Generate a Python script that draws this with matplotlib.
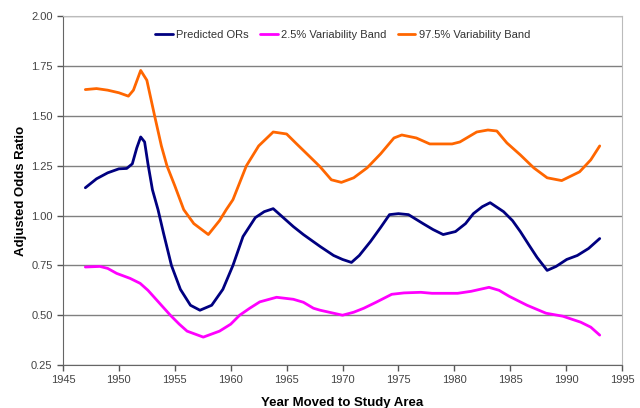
import matplotlib
matplotlib.use("Agg")
import matplotlib.pyplot as plt

plt.rcParams['font.family'] = ['Liberation Sans', 'DejaVu Sans']

pred_x = [1947, 1948, 1949, 1950, 1950.7, 1951.2, 1951.6, 1951.95, 1952.3, 1952.6, 1953.0, 1953.5,
          1954.0, 1954.7, 1955.5, 1956.4, 1957.25, 1958.3, 1959.3, 1960.2, 1961.1, 1962.2, 1963,
          1963.8, 1964.7, 1965.6, 1966.5, 1968.0, 1969.2, 1970.0, 1970.8, 1971.5, 1972.5, 1973.4,
          1974.2, 1975.0, 1975.9, 1977.2, 1978.1, 1979.0, 1980.1, 1981.0, 1981.7, 1982.5, 1983.2,
          1984.4, 1985.2, 1985.9, 1986.7, 1987.4, 1988.3, 1989.1, 1990.05, 1991.0, 1992.0, 1993]
pred_y = [1.14, 1.185, 1.215, 1.235, 1.237, 1.26, 1.34, 1.395, 1.37, 1.26, 1.13, 1.03,
          0.91, 0.75, 0.63, 0.55, 0.525, 0.55, 0.63, 0.75, 0.895, 0.99, 1.02,
          1.035, 0.99, 0.945, 0.905, 0.845, 0.80, 0.78, 0.765, 0.80, 0.87, 0.94,
          1.005, 1.01, 1.005, 0.96, 0.93, 0.905, 0.92, 0.96, 1.01, 1.045, 1.065,
          1.02, 0.975, 0.92, 0.85, 0.79, 0.725, 0.745, 0.78, 0.80, 0.835, 0.885]

low_x = [1947, 1948.3, 1949.0, 1949.8, 1951.0, 1951.9, 1952.6, 1953.4, 1954.6, 1955.4, 1956.1,
         1957.55, 1959.0, 1960.0, 1960.8, 1961.7, 1962.6, 1964.1, 1965.6, 1966.5, 1967.4, 1968.0,
         1969.2, 1970.0, 1971.0, 1971.9, 1973.0, 1974.4, 1975.5, 1977.0, 1978.0, 1980.3, 1981.5,
         1983.1, 1984.0, 1984.9, 1986.5, 1988.2, 1989.7, 1991.3, 1992.2, 1993]
low_y = [0.742, 0.745, 0.735, 0.71, 0.685, 0.66, 0.625, 0.575, 0.50, 0.455, 0.42,
         0.39, 0.42, 0.455, 0.50, 0.535, 0.567, 0.59, 0.58, 0.565, 0.535, 0.525,
         0.51, 0.50, 0.515, 0.535, 0.565, 0.605, 0.612, 0.615, 0.61, 0.61, 0.62,
         0.64, 0.625, 0.595, 0.55, 0.51, 0.495, 0.465, 0.44, 0.40]

high_x = [1947, 1948, 1949, 1950, 1950.85, 1951.3, 1951.95, 1952.5, 1953.2, 1953.8, 1954.3, 1955.0,
          1955.8, 1956.7, 1958.0, 1959.0, 1959.6, 1960.2, 1961.4, 1962.5, 1963.8, 1965.0, 1965.9,
          1967.0, 1968.0, 1969.0, 1969.9, 1971.0, 1972.2, 1973.4, 1974.6, 1975.3, 1976.6, 1977.8,
          1979.8, 1980.5, 1982.0, 1983.0, 1983.8, 1984.7, 1985.9, 1987.1, 1988.3, 1989.6, 1991.2,
          1992.2, 1993]
high_y = [1.633, 1.638, 1.63, 1.617, 1.60, 1.63, 1.729, 1.68, 1.50, 1.35, 1.25, 1.15,
          1.03, 0.96, 0.905, 0.975, 1.03, 1.08, 1.25, 1.35, 1.42, 1.41, 1.36,
          1.30, 1.245, 1.18, 1.167, 1.19, 1.24, 1.31, 1.39, 1.405, 1.39, 1.36,
          1.36, 1.37, 1.42, 1.43, 1.425, 1.365, 1.305, 1.24, 1.19, 1.176, 1.22,
          1.28, 1.35]

series_labels = ["Predicted ORs", "2.5% Variability Band", "97.5% Variability Band"]
x_ticks = [1945, 1950, 1955, 1960, 1965, 1970, 1975, 1980, 1985, 1990, 1995]
y_ticks = [0.25, 0.50, 0.75, 1.00, 1.25, 1.50, 1.75, 2.00]

fig = plt.figure(figsize=(6.4, 4.08), dpi=100)
ax = fig.add_axes([0.0984, 0.1054, 0.8736, 0.8542])

style = dict(lw=2, solid_joinstyle='round', solid_capstyle='round')
ax.plot(pred_x, pred_y, color="#000080", label=series_labels[0], **style)
ax.plot(low_x, low_y, color="#FF00FF", label=series_labels[1], **style)
ax.plot(high_x, high_y, color="#FF6600", label=series_labels[2], **style)

ax.set_xlim(1945, 1995)
ax.set_ylim(0.25, 2.00)
ax.set_xticks(x_ticks)
ax.set_yticks(y_ticks)
ax.set_yticklabels([f"{v:.2f}" for v in y_ticks])
ax.tick_params(axis='both', labelsize=8, labelcolor="#444444", color="#555555",
               direction='out', length=4, width=1)
ax.yaxis.grid(True, color="#808080", lw=1)
ax.set_axisbelow(True)
for s in ['left', 'bottom']:
    ax.spines[s].set_color("#666666")
for s in ['top', 'right']:
    ax.spines[s].set_color("#bbbbbb")

ax.set_xlabel("Year Moved to Study Area", fontsize=9.5, fontweight='bold', labelpad=8)
ax.set_ylabel("Adjusted Odds Ratio", fontsize=9.5, fontweight='bold', labelpad=3)

leg = ax.legend(loc='upper center', bbox_to_anchor=(0.5, 0.99), ncol=3, frameon=False,
                fontsize=8, handlelength=1.6, columnspacing=1.0, handletextpad=0.3)
for t in leg.get_texts():
    t.set_color("#333333")

fig.savefig("out.png", dpi=100)
